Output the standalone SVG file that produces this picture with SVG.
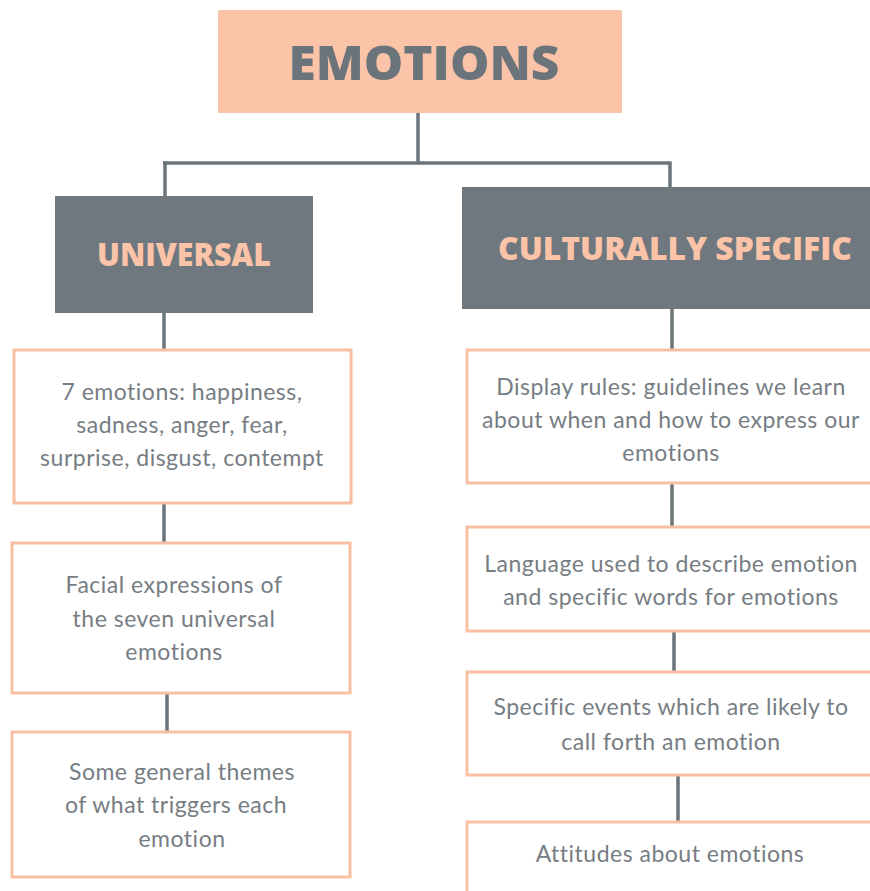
<svg xmlns="http://www.w3.org/2000/svg" width="870" height="891" viewBox="0 0 870 891">
  <style>
    .head { fill: #FBC3A8; }
    .cat { fill: #6F787E; }
    .item { fill: #FFFFFF; stroke: #F9BFA3; stroke-width: 3; }
    .wire { stroke: #6B747A; stroke-width: 3.5; fill: none; }
    .title { font-family: "Open Sans", "Liberation Sans", sans-serif; font-weight: 800; fill: #6B747A; text-anchor: middle; }
    .catlabel { font-family: "Open Sans", "Liberation Sans", sans-serif; font-weight: 800; fill: #FBC3A8; text-anchor: middle; }
    .body { font-family: "Lato", "Liberation Sans", sans-serif; font-size: 23px; letter-spacing: 0.5px; fill: #767D83; text-anchor: middle; }
  </style>
  <rect width="870" height="891" fill="#FFFFFF"/>

  <!-- connectors -->
  <g id="connectors">
    <path class="wire" d="M418 113 V163"/>
    <path class="wire" d="M163 163 H670"/>
    <path class="wire" d="M165 161.5 V196"/>
    <path class="wire" d="M670 161.5 V187"/>
    <path class="wire" d="M164 313 V350"/>
    <path class="wire" d="M672 309 V350"/>
    <path class="wire" d="M164 503 V543"/>
    <path class="wire" d="M167 693 V732"/>
    <path class="wire" d="M672 483 V527"/>
    <path class="wire" d="M674 631 V672"/>
    <path class="wire" d="M678 775 V822"/>
  </g>

  <!-- root -->
  <g id="emotions">
    <rect class="head" x="218" y="10" width="404" height="103"/>
    <text class="title" x="424" y="80" font-size="48" textLength="271" lengthAdjust="spacingAndGlyphs">EMOTIONS</text>
  </g>

  <!-- categories -->
  <g id="universal">
    <rect class="cat" x="55" y="196" width="258" height="117"/>
    <text class="catlabel" x="184" y="266" font-size="31" textLength="174" lengthAdjust="spacingAndGlyphs">UNIVERSAL</text>
  </g>
  <g id="culturally-specific">
    <rect class="cat" x="462" y="187" width="420" height="122"/>
    <text class="catlabel" x="675" y="260" font-size="31" textLength="354" lengthAdjust="spacingAndGlyphs">CULTURALLY SPECIFIC</text>
  </g>

  <!-- universal column -->
  <g id="seven-emotions">
    <rect class="item" x="14" y="350" width="337" height="153"/>
    <text class="body" x="182" y="400">7 emotions: happiness,</text>
    <text class="body" x="182" y="433">sadness, anger, fear,</text>
    <text class="body" x="182" y="466">surprise, disgust, contempt</text>
  </g>
  <g id="facial-expressions">
    <rect class="item" x="12" y="543" width="338" height="150"/>
    <text class="body" x="174" y="593">Facial expressions of</text>
    <text class="body" x="174" y="627">the seven universal</text>
    <text class="body" x="174" y="660">emotions</text>
  </g>
  <g id="general-themes">
    <rect class="item" x="12" y="732" width="338" height="145"/>
    <text class="body" x="182" y="780">Some general themes</text>
    <text class="body" x="176" y="813">of what triggers each</text>
    <text class="body" x="182" y="847">emotion</text>
  </g>

  <!-- culturally specific column -->
  <g id="display-rules">
    <rect class="item" x="467" y="350" width="410" height="133"/>
    <text class="body" x="671" y="395">Display rules: guidelines we learn</text>
    <text class="body" x="671" y="428">about when and how to express our</text>
    <text class="body" x="671" y="461">emotions</text>
  </g>
  <g id="language">
    <rect class="item" x="467" y="527" width="410" height="104"/>
    <text class="body" x="671" y="572">Language used to describe emotion</text>
    <text class="body" x="671" y="605">and specific words for emotions</text>
  </g>
  <g id="specific-events">
    <rect class="item" x="467" y="672" width="410" height="103"/>
    <text class="body" x="671" y="715">Specific events which are likely to</text>
    <text class="body" x="671" y="750">call forth an emotion</text>
  </g>
  <g id="attitudes">
    <rect class="item" x="467" y="822" width="410" height="80"/>
    <text class="body" x="670" y="862">Attitudes about emotions</text>
  </g>
</svg>
